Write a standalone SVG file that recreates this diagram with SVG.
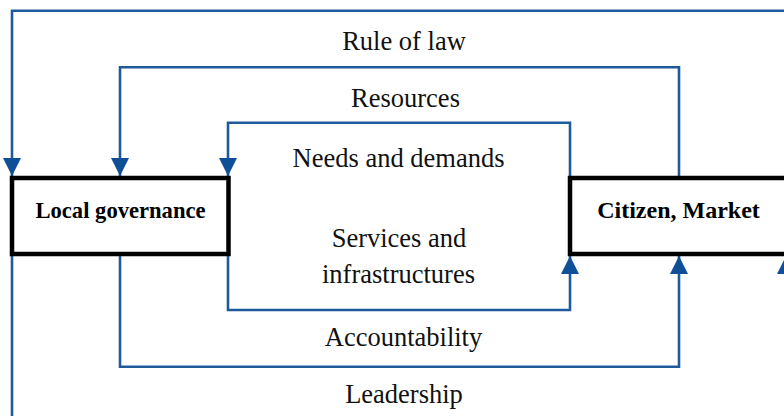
<svg xmlns="http://www.w3.org/2000/svg" width="784" height="416" viewBox="0 0 784 416">
<style>
.c{fill:none;stroke:#1f5a9c;stroke-width:2.6}
.lbl{font-family:"Liberation Serif","Times New Roman",serif;font-size:26.5px;fill:#111;text-anchor:middle}
.box{fill:#fff;stroke:#000;stroke-width:4.5}
.bt{font-family:"Liberation Serif","Times New Roman",serif;font-weight:bold;fill:#000;text-anchor:middle}
</style>
<defs>
<marker id="ah" markerUnits="userSpaceOnUse" viewBox="0 0 18 18" refX="18" refY="9" markerWidth="18" markerHeight="18" orient="auto">
<path d="M0,0 L18,9 L0,18 Z" fill="#0f4f98"/>
</marker>
</defs>
<g id="connectors">
<path class="c" d="M786,10.7 L12,10.7 L12,176" marker-end="url(#ah)"/>
<path class="c" d="M679,176 L679,67.3 L120,67.3 L120,176" marker-end="url(#ah)"/>
<path class="c" d="M570,176 L570,122.7 L228,122.7 L228,176" marker-end="url(#ah)"/>
<path class="c" d="M228,256 L228,310 L570,310 L570,256" marker-end="url(#ah)"/>
<path class="c" d="M120,256 L120,366.7 L679,366.7 L679,256" marker-end="url(#ah)"/>
<path class="c" d="M12,256 L12,420"/>
<path class="c" d="M786,420 L786,256" marker-end="url(#ah)"/>
</g>
<g id="labels">
<text class="lbl" x="404" y="50">Rule of law</text>
<text class="lbl" x="405.5" y="107">Resources</text>
<text class="lbl" x="398.5" y="166.5">Needs and demands</text>
<text class="lbl" x="399" y="246.7">Services and</text>
<text class="lbl" x="398.5" y="282.7">infrastructures</text>
<text class="lbl" x="403.5" y="346">Accountability</text>
<text class="lbl" x="404" y="402.7">Leadership</text>
</g>
<g id="local-governance">
<rect class="box" x="12" y="178" width="216.5" height="76"/>
<text class="bt" x="120.5" y="218.3" font-size="22.6">Local governance</text>
</g>
<g id="citizen-market">
<rect class="box" x="570" y="178" width="240" height="76"/>
<text class="bt" x="678.5" y="218.3" font-size="24">Citizen, Market</text>
</g>
</svg>
